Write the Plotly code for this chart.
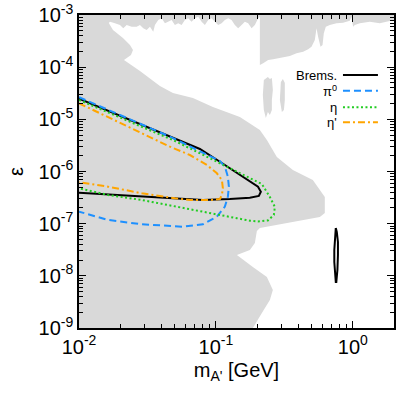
import plotly.graph_objects as go

# ---- curves (x: m_A' [GeV], y: epsilon) ----
brems_x = [0.01, 0.0502, 0.0764, 0.107, 0.157, 0.1832, 0.203, 0.213, 0.206, 0.177, 0.1265, 0.0804, 0.0502, 0.0217, 0.01]
brems_y = [2.5e-5, 4.3e-6, 2.70e-6, 1.54e-6, 7.96e-7, 6.15e-7, 5.12e-7, 4.10e-7, 3.40e-7, 3.15e-7, 2.97e-7, 2.84e-7, 3.07e-7, 3.44e-7, 3.93e-7]

pi0_x = [0.01, 0.0462, 0.107, 0.1163, 0.1223, 0.1244, 0.1223, 0.1163, 0.1017, 0.0804, 0.0574, 0.0288, 0.0163, 0.01]
pi0_y = [2.65e-5, 4.65e-6, 1.59e-6, 1.24e-6, 7.96e-7, 5.12e-7, 3.29e-7, 2.12e-7, 1.36e-7, 9.73e-8, 8.75e-8, 9.73e-8, 1.18e-7, 1.70e-7]

eta_x = [0.01, 0.0502, 0.107, 0.1862, 0.2167, 0.2479, 0.2696, 0.2651, 0.2397, 0.2026, 0.1771, 0.1424, 0.107, 0.0804, 0.0502, 0.0288, 0.0163, 0.01]
eta_y = [2.35e-5, 3.85e-6, 1.44e-6, 7.18e-7, 5.76e-7, 3.25e-7, 2.09e-7, 1.47e-7, 1.15e-7, 1.10e-7, 1.14e-7, 1.27e-7, 1.47e-7, 1.70e-7, 2.21e-7, 2.84e-7, 3.55e-7, 4.77e-7]

etap_x = [0.01, 0.0462, 0.0646, 0.086, 0.1017, 0.1106, 0.1125, 0.1106, 0.107, 0.0904, 0.0646, 0.0502, 0.0288, 0.0163, 0.01]
etap_y = [2.03e-5, 2.99e-6, 2.07e-6, 1.33e-6, 9.24e-7, 6.87e-7, 4.77e-7, 3.55e-7, 2.97e-7, 2.84e-7, 2.84e-7, 3.07e-7, 3.82e-7, 5.12e-7, 6.21e-7]

loop_x = [0.7513, 0.7390, 0.7328, 0.7328, 0.7420, 0.7513, 0.758, 0.7720, 0.7790, 0.7790, 0.7640, 0.7513]
loop_y = [8.26e-8, 5.31e-8, 3.13e-8, 1.84e-8, 1.04e-8, 7.62e-9, 7.62e-9, 1.29e-8, 2.51e-8, 4.45e-8, 6.93e-8, 8.26e-8]

# ---- excluded (grey) regions ----
main_x = [0.01, 0.01601, 0.01601, 0.01771, 0.02095, 0.02357, 0.02479, 0.02397, 0.02131, 0.02788, 0.03901, 0.04854,
          0.06795, 0.0951, 0.1497, 0.2095, 0.2357, 0.2788, 0.3648, 0.5105, 0.6246, 0.6246, 0.5742, 0.2095, 0.1992,
          0.1926, 0.1771, 0.1424, 0.1862, 0.2357, 0.2607, 0.2479, 0.2167, 0.1862, 0.01]
main_y = [1e-3, 1e-3, 8.02e-4, 5.16e-4, 3.62e-4, 2.66e-4, 2.13e-4, 1.71e-4, 1.37e-4, 8.44e-5, 4.36e-5, 3.20e-5,
          2.57e-5, 1.73e-5, 1.11e-5, 6.25e-6, 4.02e-6, 1.90e-6, 1.07e-6, 6.87e-7, 3.25e-7, 1.60e-7, 1.34e-7, 8.26e-8, 7.24e-8,
          4.26e-8, 3.13e-8, 2.51e-8, 1.48e-8, 9.5e-9, 5.36e-9, 3.44e-9, 1.94e-9, 1e-9, 1e-9]

strip_x = [0.01593, 0.01684, 0.01831, 0.01992, 0.02106, 0.0223, 0.02425, 0.02638, 0.02788, 0.02947, 0.03121, 0.03298,
           0.03486, 0.03587, 0.03791, 0.04015, 0.04243, 0.04485, 0.04749, 0.05019, 0.05306, 0.05618, 0.05939, 0.06278,
           0.06646, 0.07026, 0.07428, 0.07864, 0.08313, 0.08787, 0.09303, 0.09833, 0.1039, 0.1101, 0.1163, 0.1230,
           0.1302, 0.1376, 0.1455, 0.1540, 0.1628, 0.1721, 0.1823, 0.1926, 0.2036, 0.2095]
strip_y = [6.43e-4, 7.44e-4, 6.93e-4, 6.43e-4, 5.56e-4, 6.43e-4, 5.97e-4, 5.97e-4, 6.43e-4, 5.56e-4, 5.16e-4, 5.97e-4,
           4.79e-4, 6.43e-4, 8.02e-4, 8.64e-4, 6.93e-4, 7.44e-4, 8.02e-4, 6.43e-4, 6.93e-4, 6.43e-4, 8.02e-4, 8.64e-4,
           7.44e-4, 8.64e-4, 9.28e-4, 7.44e-4, 6.43e-4, 8.02e-4, 8.64e-4, 7.44e-4, 6.43e-4, 6.93e-4, 8.02e-4, 8.64e-4,
           8.02e-4, 6.43e-4, 5.56e-4, 6.43e-4, 7.44e-4, 6.93e-4, 5.56e-4, 6.43e-4, 8.64e-4, 9.28e-4]

rt_x = [0.2095, 0.2095, 0.2214, 0.2408, 0.2620, 0.2850, 0.3099, 0.3469, 0.3883, 0.4338, 0.4718, 0.4995, 0.5279,
        0.5433, 0.5581, 0.5811, 0.6010, 0.6143, 0.6353, 0.6795, 0.7603, 0.8497, 0.9509, 0.9783, 1.005, 1.034, 1.125,
        1.331, 1.574, 1.762, 2.0, 2.0]
rt_y = [1e-3, 1.10e-4, 1.19e-4, 1.37e-4, 1.42e-4, 1.48e-4, 1.59e-4, 1.64e-4, 1.84e-4, 1.98e-4, 2.20e-4, 2.47e-4, 3.32e-4,
        5.56e-4, 3.84e-4, 2.47e-4, 2.66e-4, 4.46e-4, 5.97e-4, 6.43e-4, 6.93e-4, 7.12e-4, 7.78e-4, 9.28e-4, 5.97e-4, 6.43e-4,
        6.93e-4, 7.44e-4, 6.93e-4, 7.44e-4, 8.02e-4, 1e-3]

blob1_x = [0.2240, 0.2317, 0.2397, 0.2479, 0.2564, 0.2607, 0.2564, 0.2564, 0.2479, 0.2397, 0.2317, 0.2240, 0.2203]
blob1_y = [5.68e-5, 6.20e-5, 6.48e-5, 5.93e-5, 6.20e-5, 3.65e-5, 2.35e-5, 1.51e-5, 1.21e-5, 1.38e-5, 1.06e-5, 1.51e-5, 2.93e-5]
blob2_x = [0.2983, 0.3086, 0.3189, 0.3189, 0.3138, 0.3034, 0.2933]
blob2_y = [5.20e-5, 5.93e-5, 4.97e-5, 2.35e-5, 1.51e-5, 1.38e-5, 2.35e-5]

x_tickvals = [0.01, 0.1, 1]
x_ticktext = ["10<sup>-2</sup>", "10<sup>-1</sup>", "10<sup>0</sup>"]
y_tickvals = [1e-9, 1e-8, 1e-7, 1e-6, 1e-5, 1e-4, 1e-3]
y_ticktext = ["10<sup>-9</sup>", "10<sup>-8</sup>", "10<sup>-7</sup>", "10<sup>-6</sup>",
              "10<sup>-5</sup>", "10<sup>-4</sup>", "10<sup>-3</sup>"]

legend_labels = ["Brems.", "π<sup>0</sup>", "η", "η'"]
colors = ["#000000", "#1e90ff", "#22cc22", "#ffa500"]
dashes = ["solid", "7px,4px", "2px,2.5px", "7px,3px,2px,3px"]

GREY = "#d9d9d9"
FONT = "Liberation Sans"

fig = go.Figure()

def grey(xs, ys):
    fig.add_trace(go.Scatter(x=xs, y=ys, mode="lines", fill="toself", fillcolor=GREY,
                             line=dict(width=0, color=GREY), hoverinfo="skip", showlegend=False))

grey(main_x, main_y)
grey(strip_x + [strip_x[-1], strip_x[0]], strip_y + [1e-3, 1e-3])
grey(rt_x, rt_y)
grey(blob1_x, blob1_y)
grey(blob2_x, blob2_y)

for xs, ys, c, d in [(brems_x, brems_y, colors[0], dashes[0]),
                     (pi0_x, pi0_y, colors[1], dashes[1]),
                     (eta_x, eta_y, colors[2], dashes[2]),
                     (etap_x, etap_y, colors[3], dashes[3])]:
    fig.add_trace(go.Scatter(x=xs, y=ys, mode="lines", line=dict(color=c, width=2, dash=d),
                             showlegend=False))

fig.add_trace(go.Scatter(x=loop_x, y=loop_y, mode="lines", line=dict(color="black", width=2),
                         showlegend=False))

# manual legend (text left of line sample)
rows = [0.8083, 0.7581, 0.7051, 0.6572]
for lab, c, d, yy in zip(legend_labels, colors, dashes, rows):
    fig.add_annotation(x=0.825, y=yy, xref="paper", yref="paper", text=lab, showarrow=False,
                       xanchor="right", yanchor="middle", font=dict(size=13, color="black", family=FONT))
    fig.add_shape(type="line", xref="paper", yref="paper", x0=0.838, x1=0.949, y0=yy, y1=yy,
                  line=dict(color=c, width=2, dash=d))

x_minor = [m * 10.0 ** e for e in (-2, -1, 0) for m in range(2, 10) if m * 10.0 ** e <= 2.0]
y_minor = [m * 10.0 ** e for e in range(-9, -3) for m in range(2, 10)]

axis_common = dict(type="log", showline=True, linecolor="black", linewidth=1.5, mirror="ticks",
                   ticks="inside", ticklen=7, tickwidth=1, tickcolor="black", showgrid=False,
                   zeroline=False, tickmode="array", automargin=False,
                   tickfont=dict(size=20, family=FONT, color="black"))

fig.update_xaxes(**axis_common, range=[-2, 0.30103], tickvals=x_tickvals, ticktext=x_ticktext,
                 minor=dict(tickmode="array", tickvals=x_minor, ticks="inside", ticklen=4, tickcolor="black", showgrid=False),
                 title=dict(text="m<sub>A'</sub> [GeV]", font=dict(size=20, family=FONT, color="black"), standoff=6))
fig.update_yaxes(**axis_common, range=[-9, -3], tickvals=y_tickvals, ticktext=y_ticktext,
                 minor=dict(tickmode="array", tickvals=y_minor, ticks="inside", ticklen=4, tickcolor="black", showgrid=False),
                 title=dict(text="ε", font=dict(size=20, family=FONT, color="black"), standoff=10))

fig.update_layout(width=399, height=394, margin=dict(l=79, r=5, t=15, b=66, autoexpand=False),
                  plot_bgcolor="white", paper_bgcolor="white", showlegend=False,
                  font=dict(family=FONT, color="black"))

fig.write_html("out.html", config={"displayModeBar": False},
               post_script="document.body.style.margin='0';document.body.style.overflow='hidden';")
